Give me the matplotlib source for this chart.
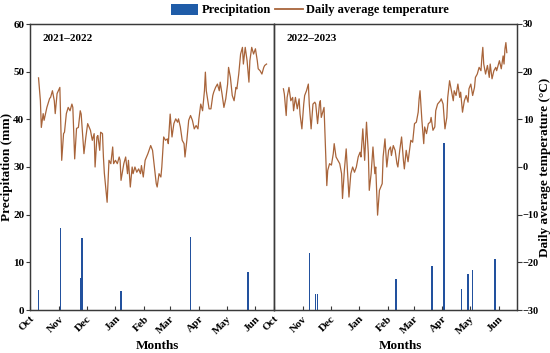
import matplotlib
matplotlib.use('Agg')
import matplotlib.pyplot as plt
from matplotlib.patches import Patch
from matplotlib.lines import Line2D

plt.rcParams['font.family'] = ['Liberation Serif', 'DejaVu Serif']
plt.rcParams['font.weight'] = 'bold'
plt.rcParams['axes.labelweight'] = 'bold'

# ---------------- data (days counted from 1 October) ----------------
month_labels = ['Oct', 'Nov', 'Dec', 'Jan', 'Feb', 'Mar', 'Apr', 'May', 'Jun']
month_days = [0, 31, 61, 92, 123, 151, 182, 212, 243]

season1 = '2021\u20132022'
season2 = '2022\u20132023'

# precipitation events (mm)
p1_days = [9, 33, 55, 56, 98, 173, 235]
p1_mm = [4.3, 17.2, 6.8, 15.2, 4.0, 15.3, 7.9]
p2_days = [38, 45, 47, 132, 171, 184, 203, 210, 215, 239, 240]
p2_mm = [11.9, 3.3, 3.3, 6.5, 9.3, 35.1, 4.4, 7.5, 8.4, 10.8, 5.6]

# daily average temperature (°C)
t1_days = [9, 11, 12, 14, 15, 18, 21, 22, 24, 26,
           27, 29, 32, 34, 36, 37, 39, 41, 43, 45,
           46, 48, 50, 52, 54, 55, 58, 60, 62, 65,
           67, 69, 70, 72, 73, 75, 76, 78, 79, 80,
           83, 85, 87, 89, 90, 92, 94, 96, 97, 98,
           101, 103, 105, 106, 108, 110, 111, 113, 115, 117,
           119, 120, 122, 124, 127, 130, 132, 134, 136, 137,
           139, 141, 142, 144, 146, 148, 149, 151, 153, 155,
           157, 159, 160, 162, 164, 166, 167, 169, 171, 173,
           175, 177, 179, 181, 182, 184, 186, 188, 189, 190,
           193, 195, 197, 198, 200, 202, 204, 205, 207, 209,
           211, 213, 214, 216, 218, 220, 222, 223, 225, 227,
           229, 230, 232, 234, 236, 237, 239, 241, 243, 245,
           246, 248, 250, 252, 253, 255]
t1_temp = [18.7, 13.9, 8.3, 11.2, 9.8, 12.5, 14.4, 14.6, 16.0, 13.9,
           11.2, 15.4, 16.7, 1.4, 7.0, 7.3, 11.2, 12.5, 11.8, 13.2,
           12.5, 1.7, 8.1, 8.3, 11.8, 11.1, 2.8, 6.2, 9.1, 7.7,
           5.6, 7.0, 0.0, 6.3, 6.6, 3.5, 7.3, 7.0, 2.1, -1.3,
           -7.4, 1.4, 0.7, 4.2, 0.7, 1.4, 0.7, 2.1, 1.4, -2.8,
           0.7, 2.1, -1.4, 1.4, -4.2, 0.0, -1.4, 0.0, -1.1, -0.4,
           -1.4, 0.3, -2.1, 1.4, 2.8, 4.5, 3.5, 0.0, -3.5, -4.2,
           -1.4, -2.1, 0.0, 6.3, 5.6, 5.9, 4.9, 11.1, 6.3, 9.1,
           10.1, 9.4, 10.1, 8.4, 5.6, 4.9, 2.1, 5.6, 9.8, 10.8,
           9.8, 8.0, 8.7, 8.0, 10.1, 13.2, 11.8, 16.0, 19.9, 16.0,
           12.2, 12.2, 15.0, 15.7, 16.7, 17.4, 16.0, 17.8, 15.3, 12.5,
           14.3, 17.4, 20.9, 18.8, 15.0, 13.9, 16.7, 16.4, 19.5, 23.7,
           25.1, 21.6, 25.1, 22.3, 17.8, 22.3, 25.1, 23.7, 24.8, 22.3,
           20.6, 20.2, 19.5, 20.9, 21.3, 21.6]

t2_days = [10, 11, 13, 14, 16, 18, 20, 21, 23, 25,
           27, 28, 30, 32, 33, 35, 37, 38, 40, 42,
           44, 45, 47, 49, 50, 51, 54, 55, 57, 58,
           60, 62, 64, 65, 67, 69, 71, 73, 74, 76,
           78, 80, 81, 83, 85, 87, 89, 91, 93, 94,
           96, 98, 100, 102, 103, 105, 107, 109, 110, 112,
           114, 117, 118, 120, 122, 124, 126, 127, 129, 131,
           133, 134, 136, 138, 140, 141, 143, 145, 147, 148,
           150, 152, 154, 156, 157, 158, 160, 162, 163, 165,
           167, 169, 170, 172, 174, 175, 177, 180, 181, 183,
           185, 187, 188, 190, 192, 194, 195, 197, 199, 201,
           202, 204, 206, 208, 210, 211, 213, 215, 217, 218,
           220, 222, 224, 225, 226, 227, 229, 231, 233, 234,
           236, 238, 240, 241, 244, 246, 248, 249, 250, 251,
           252]
t2_temp = [16.4, 15.3, 10.8, 14.6, 16.7, 13.9, 14.6, 11.8, 14.6, 12.2,
           14.3, 11.1, 8.0, 13.2, 15.0, 16.0, 17.4, 13.2, 8.0, 13.2,
           13.6, 13.2, 9.1, 13.2, 13.9, 10.4, 12.5, 7.0, -3.9, -0.7,
           0.7, 0.4, 2.8, 4.9, 2.1, 1.4, 0.7, -1.4, -6.6, -0.7,
           3.8, -2.8, -6.3, -1.4, 0.0, -1.1, 0.0, 2.1, 3.1, 2.1,
           8.0, 1.4, 9.4, 2.8, -4.9, -1.4, 4.2, -1.4, 0.0, -10.1,
           -4.9, -3.5, 2.1, 5.9, 0.0, 3.5, 4.2, 2.4, 4.5, 3.5,
           0.7, 0.0, 3.5, 6.3, 1.4, -0.4, 3.5, 1.1, 4.2, 5.6,
           5.2, 9.1, 9.4, 11.5, 14.3, 16.0, 9.8, 4.9, 8.4, 7.0,
           9.1, 9.4, 10.4, 7.7, 8.4, 11.8, 13.2, 13.9, 14.3, 13.2,
           8.0, 10.4, 14.6, 18.1, 16.0, 13.9, 16.0, 15.0, 17.4, 14.6,
           15.7, 11.5, 13.9, 15.0, 13.6, 16.4, 17.4, 15.0, 16.7, 18.8,
           19.5, 20.9, 20.2, 23.0, 25.1, 21.6, 19.5, 21.3, 18.8, 21.6,
           18.5, 20.2, 20.9, 20.2, 22.3, 20.6, 23.3, 21.6, 24.8, 26.1,
           24.0]

bar_color = '#22519e'
legend_patch_color = '#1f5ca8'
line_color = '#a8643a'
spine_color = '#3a3a3a'

W, H = 550, 353
fig = plt.figure(figsize=(W / 100, H / 100), dpi=100)
x0, xd, x1 = 29.5, 273.5, 516.5
ytop, ybot = 24, 310
b = 1 - ybot / H
h = (ybot - ytop) / H
axL = fig.add_axes([x0 / W, b, (xd - x0) / W, h])
axR = fig.add_axes([xd / W, b, (x1 - xd) / W, h])

panels = [(axL, p1_days, p1_mm, t1_days, t1_temp, season1),
          (axR, p2_days, p2_mm, t2_days, t2_temp, season2)]

tw = []
for ax, pd_, pm, td, tt, lab in panels:
    ax.bar(pd_, pm, width=1.5, color=bar_color, linewidth=0, zorder=2)
    ax.set_xlim(-0.75, 262.5)
    ax.set_ylim(0, 60)
    ax.set_xticks(month_days)
    ax.set_xticklabels(month_labels, rotation=45, ha='right',
                       rotation_mode='anchor', fontsize=8, fontweight='bold')
    ax.tick_params(axis='x', direction='in', length=3, width=0.8,
                   color=spine_color, pad=3)
    for s in ax.spines.values():
        s.set_color(spine_color)
        s.set_linewidth(0.9)
    ax.set_xlabel('Months', fontsize=9.5, fontweight='bold')
    ax.xaxis.set_label_coords(0.523, -0.105)
    ax.text(0.053, 0.939, lab, transform=ax.transAxes, fontsize=8,
            fontweight='bold', ha='left', va='baseline')
    t = ax.twinx()
    t.plot(td, tt, color=line_color, lw=0.9, zorder=3)
    t.set_ylim(-30, 30)
    t.set_xlim(-0.75, 262.5)
    for s in t.spines.values():
        s.set_color(spine_color)
        s.set_linewidth(0.9)
    tw.append(t)

# left panel y axis (precipitation)
axL.set_yticks(range(0, 61, 10))
axL.tick_params(axis='y', direction='out', length=3, width=0.8,
                color=spine_color, labelsize=8, pad=0.8)
axL.set_ylabel('Precipitation (mm)', fontsize=9.5, fontweight='bold', labelpad=0)
tw[0].tick_params(axis='y', right=False, labelright=False)

# right panel y axis (temperature)
axR.tick_params(axis='y', left=False, labelleft=False)
tw[1].set_yticks(range(-30, 31, 10))
tw[1].tick_params(axis='y', direction='out', length=3.5, width=0.8,
                  color=spine_color, labelsize=7.5, pad=1)
tw[1].set_ylabel('Daily average temperature (\u00b0C)', fontsize=9.5,
                 fontweight='bold', labelpad=0)

handles = [Patch(facecolor=legend_patch_color, edgecolor='none'),
           Line2D([], [], color=line_color, lw=1.3)]
fig.legend(handles, ['Precipitation', 'Daily average temperature'],
           loc='center', bbox_to_anchor=(310 / W, 1 - 10 / H), ncol=2,
           frameon=False, prop={'weight': 'bold', 'size': 9},
           handlelength=2.2, handleheight=1.0, handletextpad=0.3,
           columnspacing=0.3, borderpad=0, borderaxespad=0)

fig.savefig('out.png', dpi=100)
